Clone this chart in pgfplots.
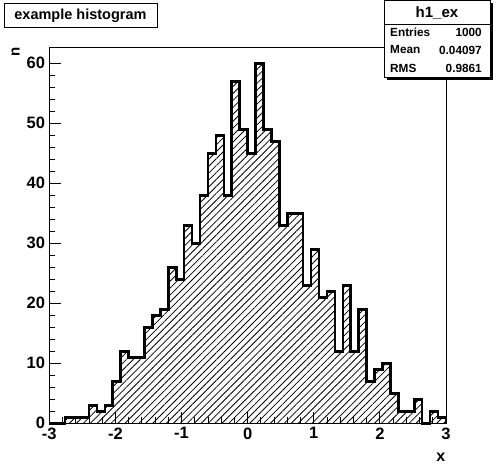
\documentclass[border=0pt]{standalone}
\usepackage{fontspec}
\setmainfont{Liberation Sans}
\usepackage{pgfplots}
\usepackage{pgfplotstable}
\pgfplotsset{compat=1.18}
\usetikzlibrary{patterns.meta}

\pgfplotstableread{
x y
-3.00 0
-2.88 0
-2.76 1
-2.64 1
-2.52 1
-2.40 3
-2.28 2
-2.16 3
-2.04 7
-1.92 12
-1.80 11
-1.68 11
-1.56 16
-1.44 18
-1.32 19
-1.20 26
-1.08 24
-0.96 33
-0.84 30
-0.72 38
-0.60 45
-0.48 48
-0.36 38
-0.24 57
-0.12 49
0.00 45
0.12 60
0.24 49
0.36 47
0.48 33
0.60 35
0.72 35
0.84 23
0.96 29
1.08 21
1.20 22
1.32 12
1.44 23
1.56 12
1.68 19
1.80 7
1.92 9
2.04 10
2.16 5
2.28 2
2.40 2
2.52 4
2.64 0
2.76 2
2.88 1
3.00 1
3.00 0
}\histdata

\begin{document}
\begin{tikzpicture}[x=1pt,y=1pt]
\path[use as bounding box] (0,0) rectangle (496,472);
\begin{axis}[
  at={(49.3pt,48.7pt)}, anchor=south west,
  width=396.7pt, height=375.6pt, scale only axis,
  xmin=-3, xmax=3, ymin=0, ymax=62.6,
  xtick={-3,-2,-1,0,1,2,3}, xticklabels={-3,-2,-1,0,1,2,3},
  ytick={0,10,20,30,40,50,60}, yticklabels={0,10,20,30,40,50,60},
  minor x tick num=4, minor y tick num=4,
  xtick pos=bottom, ytick pos=left, tick align=inside,
  major tick length=11.5pt, minor tick length=5.8pt,
  tick style={line width=0.9pt, black},
  axis line style={line width=0.9pt},
  ticklabel style={font=\bfseries\fontsize{16.5}{16.5}\selectfont, inner sep=0pt},
  xticklabel style={anchor=north, yshift=-4pt},
  yticklabel style={anchor=east, xshift=-4pt},
  clip=false,
]
\addplot[const plot, draw=none, pattern={Lines[angle=45,distance=4.9pt,line width=0.8pt]}, pattern color=black] table[x=x,y=y] {\histdata} \closedcycle;
\addplot[const plot, draw=black, line width=2.6pt, line join=miter, mark=none] table[x=x,y=y] {\histdata};
\end{axis}
% title box
\node[draw, line width=0.9pt, fill=white, minimum width=153pt, minimum height=24pt, inner sep=0pt, font=\bfseries\fontsize{14.5}{14.5}\selectfont] at (80.5,456.7) {example histogram};
% stats box
\fill[black] (387,392) rectangle (493,469);
\draw[fill=white, line width=0.9pt] (384,395) rectangle (490,471.5);
\draw[line width=0.9pt] (384,448) -- (490,448);
\node[inner sep=0pt, font=\bfseries\fontsize{15}{15}\selectfont] at (437,459.5) {h1\_ex};
\begin{scope}[every node/.style={inner sep=0pt, font=\bfseries\fontsize{11.8}{11.8}\selectfont}]
\node[anchor=west] at (390,440) {Entries};
\node[anchor=east] at (482,440) {1000};
\node[anchor=west] at (390,422) {Mean};
\node[anchor=east] at (482,422) {0.04097};
\node[anchor=west] at (390,404) {RMS};
\node[anchor=east] at (482,404) {0.9861};
\end{scope}
% axis titles
\node[rotate=90, anchor=east, inner sep=0pt, font=\bfseries\fontsize{15}{15}\selectfont] at (15.5,424.5) {n};
\node[anchor=south east, inner sep=0pt, font=\bfseries\fontsize{16}{16}\selectfont] at (445.5,10) {x};
\end{tikzpicture}
\end{document}
